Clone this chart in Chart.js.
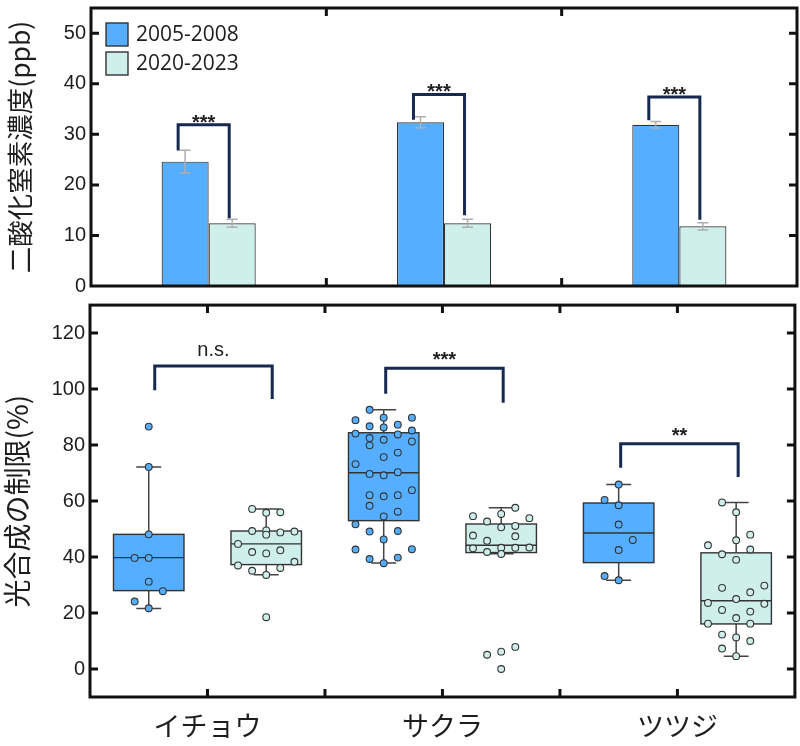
<!DOCTYPE html>
<html><head><meta charset="utf-8">
<script src="https://cdn.jsdelivr.net/npm/chart.js@4.4.1/dist/chart.umd.min.js"></script>
<style>
html,body{margin:0;padding:0;background:#fff;}
canvas{display:block;}
</style></head><body>
<canvas id="top" width="800" height="300"></canvas>
<canvas id="bottom" width="800" height="446"></canvas>
<script>
// ---------- DATA ----------
const categories = ['イチョウ', 'サクラ', 'ツツジ'];
const seriesNames = ['2005-2008', '2020-2023'];

// Top: NO2 concentration (ppb), mean and error
const no2Early = [24.6, 32.4, 31.9];
const no2EarlyErr = [2.25, 1.1, 0.65];
const no2Late = [12.4, 12.4, 11.8];
const no2LateErr = [0.8, 0.8, 0.7];
const topTicks = [0, 10, 20, 30, 40, 50];
// Top significance brackets: bracket level, left leg end, right leg end
const sigTopLabels = ['***', '***', '***'];
const sigTopLevel = [31.9, 37.9, 37.4];
const sigTopLeftEnd = [26.8, 32.9, 32.8];
const sigTopRightEnd = [13.4, 14.0, 13.1];

// Bottom: box stats [min, q1, median, q3, max]
const boxEarly = [[21.6, 28.0, 39.8, 48.1, 72.2], [37.9, 53.0, 70.1, 84.4, 92.6], [31.7, 38.0, 48.6, 59.3, 65.9]];
const boxLate = [[33.7, 37.3, 44.7, 49.3, 57.2], [41.2, 41.6, 44.2, 51.8, 57.6], [4.6, 16.1, 24.4, 41.5, 59.5]];
const bottomTicks = [0, 20, 40, 60, 80, 100, 120];
// Individual points: [jitter column, value]
const ptsIchouEarly = [[0,86.6],[0,72.2],[0,48.1],[-1,39.7],[0,39.7],[0,31.2],[1,27.8],[-1,24.1],[0,21.7]];
const ptsIchouLate = [[-1,57.2],[0,55.8],[1,56.0],[-1,49.3],[0,49.5],[0,48.0],[1,48.8],[2,49.1],[-2,44.7],[-1,41.8],[0,41.3],[1,42.4],[-2,37.0],[2,38.3],[-1,35.1],[1,36.1],[0,33.6],[0,18.5]];
const ptsSakuraEarly = [[-1,92.6],[-2,88.9],[0,89.8],[-1,86.7],[0,86.3],[1,87.3],[2,89.8],[-2,84.1],[1,83.8],[2,85.2],[-1,82.5],[-1,79.9],[0,81.9],[2,81.3],[1,77.3],[0,75.7],[-2,73.2],[-1,69.7],[0,69.2],[1,70.3],[2,63.9],[-1,62.1],[0,61.7],[1,62.1],[-1,58.3],[1,56.2],[0,54.5],[-2,51.7],[-1,49.1],[1,49.3],[0,46.3],[-2,42.7],[2,42.8],[-1,39.3],[1,39.8],[0,37.8]];
const ptsSakuraLate = [[1,57.6],[0,55.4],[-2,54.6],[2,53.9],[-1,52.7],[0,50.6],[1,51.1],[-2,47.7],[1,47.4],[-1,45.8],[-2,43.1],[0,43.3],[1,43.3],[2,43.4],[-1,41.8],[0,41.1],[-1,5.1],[0,6.2],[1,7.9],[0,0.0]];
const ptsTsutsujiEarly = [[0,65.9],[-1,60.4],[0,58.5],[0,51.6],[1,46.1],[0,42.5],[-1,33.2],[0,31.7]];
const ptsTsutsujiLate = [[-1,59.5],[0,56.0],[1,48.0],[0,46.0],[-2,44.2],[1,42.7],[-1,41.0],[0,39.0],[-1,29.0],[2,29.8],[1,27.4],[-2,23.6],[0,25.0],[2,23.3],[-1,21.1],[1,20.5],[0,18.2],[-2,16.2],[1,16.2],[-1,12.3],[0,11.3],[1,10.0],[-1,7.3],[0,4.6]];
const ptsEarly = [ptsIchouEarly, ptsSakuraEarly, ptsTsutsujiEarly];
const ptsLate = [ptsIchouLate, ptsSakuraLate, ptsTsutsujiLate];
// Bottom significance brackets
const sigBottomLabels = ['n.s.', '***', '**'];
const sigBottomLevel = [108.2, 107.4, 80.5];
const sigBottomLeftEnd = [99.6, 98.3, 71.9];
const sigBottomRightEnd = [96.5, 95.1, 68.6];

// ---------- STYLE ----------
const C_EARLY = '#55AEFF';
const C_LATE = '#CFEFEA';
const C_EDGE = '#333333';
const C_BRACKET = '#16294F';
const C_FRAME = '#111111';
const C_TEXT = '#1E1E1E';
const C_ERR = '#AFAFAF';
const NUM_FONT = "'Liberation Sans', Arial, sans-serif";
const JP_FONT = "'Noto Sans CJK JP', 'Noto Sans', sans-serif";
const GROUP_OFFSET = 0.25;  // box center offset from category (axis units)
const JITTER = 0.06;        // jitter column spacing (axis units)
const BOX_HALF = 0.15;
const CAP_HALF = 0.053;

function drawFrame(chart, xTickPx, yTickVals) {
  const {ctx, chartArea: a, scales} = chart;
  ctx.save();
  ctx.strokeStyle = C_FRAME;
  ctx.lineWidth = 3;
  ctx.strokeRect(a.left, a.top, a.right - a.left, a.bottom - a.top);
  const L = 8;
  ctx.beginPath();
  yTickVals.forEach(v => {
    const py = scales.y.getPixelForValue(v);
    if (py <= a.top + 2 || py >= a.bottom - 2) return;
    ctx.moveTo(a.left, py); ctx.lineTo(a.left + L, py);
    ctx.moveTo(a.right, py); ctx.lineTo(a.right - L, py);
  });
  xTickPx.forEach(px => {
    ctx.moveTo(px, a.top); ctx.lineTo(px, a.top + L);
    ctx.moveTo(px, a.bottom); ctx.lineTo(px, a.bottom - L);
  });
  ctx.stroke();
  ctx.restore();
}

function drawBracket(ctx, lx, rx, yTop, yL, yR, label, font, textDy) {
  ctx.save();
  ctx.strokeStyle = C_BRACKET;
  ctx.lineWidth = 3;
  ctx.lineJoin = 'miter';
  ctx.beginPath();
  ctx.moveTo(lx, yL); ctx.lineTo(lx, yTop); ctx.lineTo(rx, yTop); ctx.lineTo(rx, yR);
  ctx.stroke();
  ctx.fillStyle = C_TEXT;
  ctx.font = font;
  ctx.textAlign = 'center';
  ctx.textBaseline = 'alphabetic';
  ctx.fillText(label, (lx + rx) / 2, yTop + textDy);
  ctx.restore();
}

function fixY(width) {
  return function (s) { s.width = width; s.paddingTop = 0; s.paddingBottom = 0; };
}

// ---------- TOP CHART ----------
const topPlugin = {
  id: 'topExtras',
  afterDatasetsDraw(chart) {
    const {ctx, scales: {y}} = chart;
    const errs = [no2EarlyErr, no2LateErr];
    ctx.save();
    ctx.strokeStyle = C_ERR;
    ctx.lineWidth = 1.5;
    [0, 1].forEach(d => {
      const meta = chart.getDatasetMeta(d);
      const vals = chart.data.datasets[d].data;
      meta.data.forEach((el, i) => {
        const yt = y.getPixelForValue(vals[i] + errs[d][i]);
        const yb = y.getPixelForValue(vals[i] - errs[d][i]);
        ctx.beginPath();
        ctx.moveTo(el.x, yt); ctx.lineTo(el.x, yb);
        ctx.moveTo(el.x - 5.5, yt); ctx.lineTo(el.x + 5.5, yt);
        ctx.moveTo(el.x - 5.5, yb); ctx.lineTo(el.x + 5.5, yb);
        ctx.stroke();
      });
    });
    ctx.restore();
  },
  afterDraw(chart) {
    const {ctx, chartArea: a, scales: {x, y}} = chart;
    const mids = [];
    for (let i = 0; i < categories.length - 1; i++) mids.push((x.getPixelForValue(i) + x.getPixelForValue(i + 1)) / 2);
    drawFrame(chart, mids, topTicks);
    const m0 = chart.getDatasetMeta(0), m1 = chart.getDatasetMeta(1);
    categories.forEach((c, i) => {
      drawBracket(ctx, m0.data[i].x - 7, m1.data[i].x - 3,
        y.getPixelForValue(sigTopLevel[i]), y.getPixelForValue(sigTopLeftEnd[i]), y.getPixelForValue(sigTopRightEnd[i]),
        sigTopLabels[i], "bold 20px " + NUM_FONT, 4);
    });
    // legend
    const cols = [C_EARLY, C_LATE];
    ctx.save();
    seriesNames.forEach((n, k) => {
      const sx = a.left + 15, sy = a.top + 15 + k * 29;
      ctx.fillStyle = cols[k];
      ctx.fillRect(sx, sy, 22, 23);
      ctx.strokeStyle = C_EDGE; ctx.lineWidth = 1.4;
      ctx.strokeRect(sx, sy, 22, 23);
      ctx.fillStyle = C_TEXT;
      ctx.font = "21px 'Open Sans', sans-serif";
      ctx.textAlign = 'left'; ctx.textBaseline = 'middle';
      ctx.fillText(n, sx + 30, sy + 12);
    });
    ctx.restore();
  }
};

new Chart(document.getElementById('top'), {
  type: 'bar',
  data: {
    labels: categories,
    datasets: [
      {label: seriesNames[0], data: no2Early, backgroundColor: C_EARLY, borderColor: C_EDGE, borderWidth: 1.2, categoryPercentage: 0.4, barPercentage: 1},
      {label: seriesNames[1], data: no2Late, backgroundColor: C_LATE, borderColor: C_EDGE, borderWidth: 1.2, categoryPercentage: 0.4, barPercentage: 1}
    ]
  },
  options: {
    responsive: false, animation: false,
    layout: {padding: {top: 8, right: 3, left: 0, bottom: 0}},
    plugins: {legend: {display: false}, tooltip: {enabled: false}},
    scales: {
      x: {grid: {display: false}, border: {display: false}, ticks: {display: false},
          afterFit(s) { s.height = 14; s.paddingLeft = 0; s.paddingRight = 0; }},
      y: {min: 0, max: 55,
          ticks: {font: {family: NUM_FONT, size: 20}, color: C_TEXT, padding: 5},
          grid: {display: false, drawTicks: false}, border: {display: false},
          afterBuildTicks(s) { s.ticks = topTicks.map(v => ({value: v})); },
          afterFit: fixY(91),
          title: {display: true, text: '二酸化窒素濃度(ppb)', font: {family: JP_FONT, size: 26.5}, color: C_TEXT, padding: {top: 4, bottom: 0}}}
    }
  },
  plugins: [topPlugin]
});

// ---------- BOTTOM CHART ----------
function toPoints(groups, sign) {
  const out = [];
  groups.forEach((g, i) => g.forEach(([col, v]) => out.push({x: i + sign * GROUP_OFFSET + col * JITTER, y: v})));
  return out;
}

const bottomPlugin = {
  id: 'bottomExtras',
  beforeDatasetsDraw(chart) {
    const {ctx, scales: {x, y}} = chart;
    ctx.save();
    [[boxEarly, -1, C_EARLY], [boxLate, 1, C_LATE]].forEach(([stats, sign, col]) => {
      stats.forEach((s, i) => {
        const c = i + sign * GROUP_OFFSET;
        const cx = x.getPixelForValue(c);
        const bl = x.getPixelForValue(c - BOX_HALF), br = x.getPixelForValue(c + BOX_HALF);
        const cl = x.getPixelForValue(c - CAP_HALF), cr = x.getPixelForValue(c + CAP_HALF);
        const [mn, q1, md, q3, mx] = s.map(v => y.getPixelForValue(v));
        ctx.strokeStyle = '#444'; ctx.lineWidth = 1.5;
        ctx.beginPath();
        ctx.moveTo(cx, q3); ctx.lineTo(cx, mx);
        ctx.moveTo(cl, mx); ctx.lineTo(cr, mx);
        ctx.moveTo(cx, q1); ctx.lineTo(cx, mn);
        ctx.moveTo(cl, mn); ctx.lineTo(cr, mn);
        ctx.stroke();
        ctx.fillStyle = col;
        ctx.fillRect(bl, q3, br - bl, q1 - q3);
        ctx.strokeStyle = C_EDGE; ctx.lineWidth = 1.4;
        ctx.strokeRect(bl, q3, br - bl, q1 - q3);
        ctx.beginPath(); ctx.moveTo(bl, md); ctx.lineTo(br, md); ctx.stroke();
      });
    });
    ctx.restore();
  },
  afterDraw(chart) {
    const {ctx, scales: {x, y}} = chart;
    const xt = [];
    categories.forEach((c, i) => {
      xt.push(x.getPixelForValue(i));
      if (i < categories.length - 1) xt.push(x.getPixelForValue(i + 0.5));
    });
    drawFrame(chart, xt, bottomTicks);
    categories.forEach((c, i) => {
      const lab = sigBottomLabels[i];
      const isText = lab === 'n.s.';
      const shift = i === 0 ? 6 : 2;
      drawBracket(ctx, x.getPixelForValue(i - GROUP_OFFSET) + shift, x.getPixelForValue(i + GROUP_OFFSET) + shift,
        y.getPixelForValue(sigBottomLevel[i]), y.getPixelForValue(sigBottomLeftEnd[i]), y.getPixelForValue(sigBottomRightEnd[i]),
        lab, isText ? "20px " + NUM_FONT : "bold 20px " + NUM_FONT, isText ? -10 : -2);
    });
  }
};

new Chart(document.getElementById('bottom'), {
  type: 'scatter',
  data: {
    datasets: [
      {label: seriesNames[0], data: toPoints(ptsEarly, -1), backgroundColor: C_EARLY, borderColor: C_EDGE, borderWidth: 1.1, pointRadius: 3.4},
      {label: seriesNames[1], data: toPoints(ptsLate, 1), backgroundColor: C_LATE, borderColor: C_EDGE, borderWidth: 1.1, pointRadius: 3.4}
    ]
  },
  options: {
    responsive: false, animation: false,
    layout: {padding: {top: 5, right: 3, left: 0, bottom: 0}},
    plugins: {legend: {display: false}, tooltip: {enabled: false}},
    scales: {
      x: {type: 'linear', min: -0.5, max: 2.5,
          ticks: {autoSkip: false, maxRotation: 0, font: {family: JP_FONT, size: 27}, color: C_TEXT, padding: 13,
                  callback: v => categories[v]},
          afterBuildTicks(s) { s.ticks = categories.map((c, i) => ({value: i})); },
          grid: {display: false, drawTicks: false}, border: {display: false},
          afterFit(s) { s.height = 49; s.paddingLeft = 0; s.paddingRight = 0; }},
      y: {min: -10, max: 130,
          ticks: {font: {family: NUM_FONT, size: 20}, color: C_TEXT, padding: 5},
          grid: {display: false, drawTicks: false}, border: {display: false},
          afterBuildTicks(s) { s.ticks = bottomTicks.map(v => ({value: v})); },
          afterFit: fixY(90),
          title: {display: true, text: '光合成の制限(%)', font: {family: JP_FONT, size: 28}, color: C_TEXT, padding: {top: 1, bottom: 0}}}
    }
  },
  plugins: [bottomPlugin]
});
</script>
</body></html>
